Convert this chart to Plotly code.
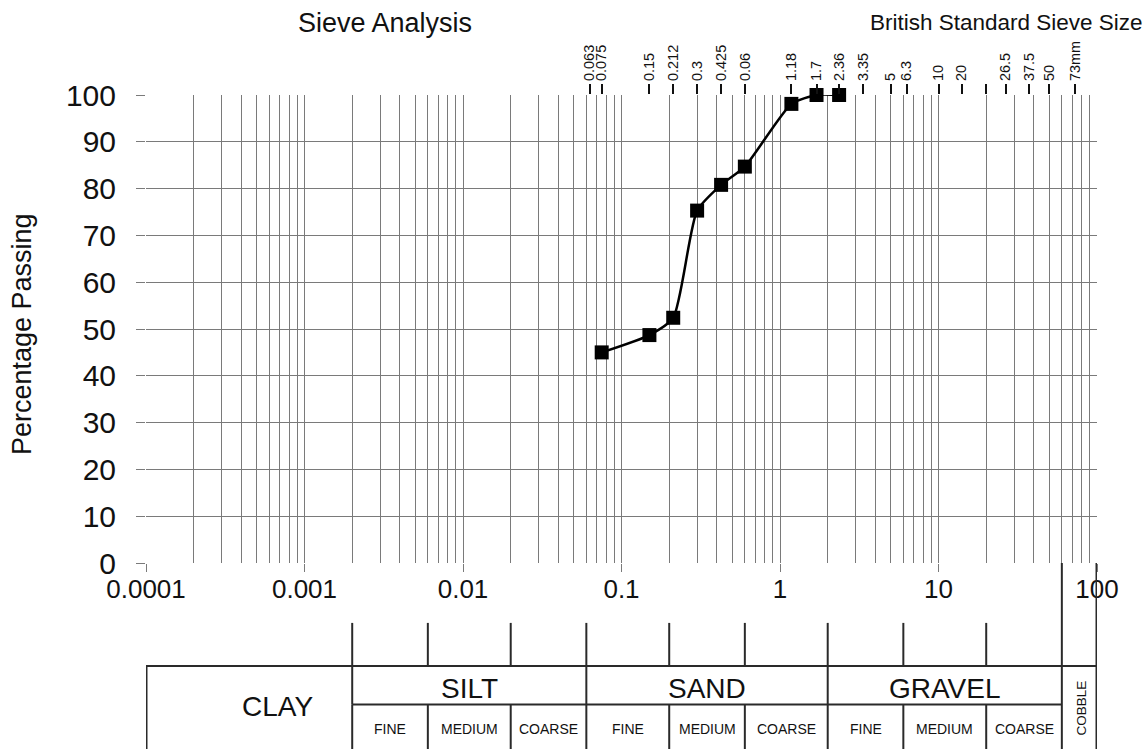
import math
import plotly.graph_objects as go

# ---------------- data ----------------
sieve_size_mm = [0.075, 0.15, 0.212, 0.3, 0.425, 0.6, 1.18, 1.7, 2.36]
percent_passing = [45.0, 48.7, 52.4, 75.3, 80.8, 84.7, 98.1, 100.0, 100.0]

top_tick_vals = [0.063, 0.075, 0.15, 0.212, 0.3, 0.425, 0.6, 1.18, 1.7, 2.36,
                 3.35, 5, 6.3, 10, 14, 20, 26.5, 37.5, 50, 73]
top_tick_text = ["0.063", "0.075", "0.15", "0.212", "0.3", "0.425", "0.06", "1.18",
                 "1.7", "2.36", "3.35", "5", "6.3", "10", "20", "", "26.5", "37.5",
                 "50", "73mm"]

decade_vals = [1e-4, 1e-3, 1e-2, 0.1, 1, 10, 100]
decade_text = ["0.0001", "0.001", "0.01", "0.1", "1", "10", "100"]
minor_vals = [m * d for d in decade_vals[:-1] for m in range(2, 10)]
y_ticks = list(range(0, 101, 10))

# soil classification (BS)
main_bounds = [0.0001, 0.002, 0.06, 2, 60, 100]
main_names = ["CLAY", "SILT", "SAND", "GRAVEL", "COBBLE"]
sub_bounds = [0.002, 0.006, 0.02, 0.06, 0.2, 0.6, 2, 6, 20, 60]
sub_names = ["FINE", "MEDIUM", "COARSE"] * 3

FONT = "Liberation Sans, Arial, sans-serif"
GRID = "#7a7a7a"
LINE = "#2a2a2a"

# table rows in paper coordinates (below plot)
Y_STUB = -0.128
Y_TOP = -0.220
Y_MID = -0.3025
Y_BOT = -0.42

fig = go.Figure()
fig.add_trace(go.Scatter(
    x=sieve_size_mm, y=percent_passing, mode="lines+markers",
    line=dict(color="black", width=2.5, shape="spline", smoothing=0.6),
    marker=dict(symbol="square", size=14, color="black"),
    cliponaxis=False, showlegend=False, xaxis="x", yaxis="y"))
# invisible trace to activate the top axis
fig.add_trace(go.Scatter(x=[sieve_size_mm[0]], y=[percent_passing[0]], mode="markers",
                         marker=dict(opacity=0), showlegend=False, hoverinfo="skip",
                         xaxis="x2", yaxis="y"))

shapes = []
def vline(x, y0, y1, w=2):
    shapes.append(dict(type="line", xref="x", yref="paper", x0=x, x1=x, y0=y0, y1=y1,
                       line=dict(color=LINE, width=w)))
def hline(x0, x1, y, w=2):
    shapes.append(dict(type="line", xref="x", yref="paper", x0=x0, x1=x1, y0=y, y1=y,
                       line=dict(color=LINE, width=w)))

for b in sub_bounds[:-1]:
    vline(b, Y_STUB, Y_TOP)
    vline(b, Y_MID, Y_BOT)
for b in main_bounds[1:4]:
    vline(b, Y_TOP, Y_MID)
vline(main_bounds[0], Y_TOP, Y_BOT, w=3)
vline(main_bounds[4], 0, Y_BOT)
vline(main_bounds[5], 0, Y_BOT, w=3)
hline(main_bounds[0], main_bounds[5], Y_TOP)
hline(main_bounds[1], main_bounds[4], Y_MID)

ann = []
def gmid(a, b):
    return (math.log10(a) + math.log10(b)) / 2

for i, name in enumerate(main_names):
    a, b = main_bounds[i], main_bounds[i + 1]
    if name == "CLAY":
        ann.append(dict(x=gmid(a, b), y=-0.306, text=name, xshift=28,
                        font=dict(size=28)))
    elif name == "COBBLE":
        ann.append(dict(x=gmid(a, b), y=-0.31, text=name, xshift=2,
                        textangle=-90, font=dict(size=13.5)))
    else:
        ann.append(dict(x=gmid(a, b), y=-0.269, text=name, font=dict(size=28)))
for i, name in enumerate(sub_names):
    a, b = sub_bounds[i], sub_bounds[i + 1]
    ann.append(dict(x=gmid(a, b), y=-0.355, text=name, font=dict(size=14)))
for a in ann:
    a.update(xref="x", yref="paper", showarrow=False, xanchor="center", yanchor="middle")
    a["font"].update(family=FONT, color="#111")

ann += [
    dict(xref="paper", yref="paper", x=0.2513, y=1.154, text="Sieve Analysis",
         showarrow=False, xanchor="center", yanchor="middle",
         font=dict(family=FONT, size=27, color="#111")),
    dict(xref="paper", yref="paper", x=1.05, y=1.154, text="British Standard Sieve Size",
         showarrow=False, xanchor="right", yanchor="middle",
         font=dict(family=FONT, size=22.5, color="#111")),
    dict(xref="paper", yref="paper", x=-0.131, y=0.49, text="Percentage Passing",
         showarrow=False, xanchor="center", yanchor="middle", textangle=-90,
         font=dict(family=FONT, size=27, color="#111")),
]

fig.update_layout(
    width=1148, height=749,
    margin=dict(l=146, r=51, t=95, b=186, pad=0),
    paper_bgcolor="white", plot_bgcolor="white",
    font=dict(family=FONT, color="#111"),
    shapes=shapes, annotations=ann,
    xaxis=dict(type="log", range=[-4, 2], tickmode="array", tickvals=decade_vals,
               ticktext=decade_text, showgrid=True, gridcolor=GRID, gridwidth=1.4,
               ticks="outside", ticklen=8, tickcolor=GRID, tickwidth=1.4,
               tickfont=dict(size=26, family=FONT, color="#111"),
               ticklabelstandoff=-5,
               minor=dict(tickmode="array", tickvals=minor_vals, showgrid=True,
                          gridcolor=GRID, gridwidth=1.4, ticks=""),
               showline=False, zeroline=False),
    xaxis2=dict(type="log", range=[-4, 2], overlaying="x", side="top", anchor="y",
                tickmode="array", tickvals=top_tick_vals, ticktext=top_tick_text,
                tickangle=-90, ticks="outside", ticklen=10, tickwidth=2,
                tickcolor="#111", showgrid=False, showline=False, zeroline=False,
                tickfont=dict(size=14.5, family=FONT, color="#111")),
    yaxis=dict(range=[0, 100], tickmode="array", tickvals=y_ticks, showgrid=True,
               gridcolor=GRID, gridwidth=1.4, ticks="outside", ticklen=9,
               tickcolor=GRID, tickwidth=1.4, zeroline=False, showline=False,
               tickfont=dict(size=30, family=FONT, color="#111"),
               ticklabelstandoff=14),
)

fig.write_html("out.html")
